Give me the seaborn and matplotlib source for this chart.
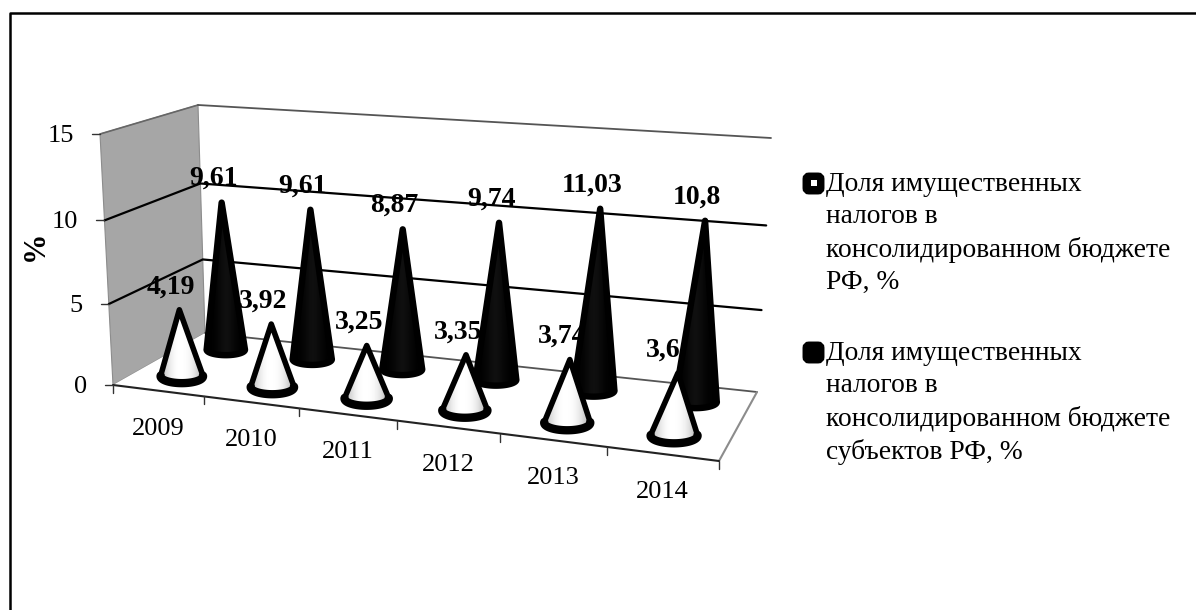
import numpy as np
import pandas as pd
import seaborn as sns
import matplotlib.pyplot as plt
from matplotlib.patches import Polygon, FancyBboxPatch, Rectangle

# --- data ---
YEARS = ['2009', '2010', '2011', '2012', '2013', '2014']
SHARE_RF = [4.19, 3.92, 3.25, 3.35, 3.74, 3.64]
SHARE_REGIONS = [9.61, 9.61, 8.87, 9.74, 11.03, 10.8]
Y_TICKS = [0, 5, 10, 15]
LEGEND_RF = 'Доля имущественных\nналогов в\nконсолидированном бюджете\nРФ, %'
LEGEND_REGIONS = 'Доля имущественных\nналогов в\nконсолидированном бюджете\nсубъектов РФ, %'

# --- scene corners in pixels: (front/back, left/right) at value 0 and at value 15 ---
FLOOR = {'fl': (113, 385), 'bl': (205, 333), 'fr': (719, 461), 'br': (757, 392)}
TOP = {'fl': (100, 134), 'bl': (198, 105), 'fr': (740, 185), 'br': (771, 138)}
DEPTH_WHITE = 0.27
DEPTH_BLACK = 0.77
PERSP_U = 1.132
PERSP_V = 1.05


def warp(t, k):
    # projective spacing, the far end of the chart is squeezed
    return t / (t + k * (1 - t))


def project(u, d, v):
    """u along years 0..1, d depth 0..1, v value 0..15 -> pixel x, y"""
    u = warp(u, PERSP_U)

    def plane(c):
        front = (1 - u) * np.array(c['fl']) + u * np.array(c['fr'])
        back = (1 - u) * np.array(c['bl']) + u * np.array(c['br'])
        return (1 - d) * front + d * back
    t = warp(v / Y_TICKS[-1], PERSP_V)
    return (1 - t) * plane(FLOOR) + t * plane(TOP)


def grid_frame():
    rows = []
    for level in Y_TICKS[1:3]:
        for u, d in [(0, 0), (0, 1), (1, 1)]:
            x, y = project(u, d, level)
            rows.append({'px': x, 'py': y, 'level': level})
    return pd.DataFrame(rows)


def draw_cone(ax, u, d, value, dark):
    bx, by = project(u, d, 0)
    tx, ty = project(u, d, value)
    scale = 1 + 0.13 * u
    if dark:
        # thick round stroke makes the blunt tip, so the shape is inset by it
        a, b = 19 * scale, 5.5 * scale
        ty += 1
        ramp = [0.0, 0.01, 0.04, 0.07, 0.04, 0.01, 0.0]
        lw = 4.6
    else:
        a, b = 21 * scale, 6.8 * scale
        ramp = [0.78, 0.93, 1.0, 1.0, 0.98, 0.90, 0.72]
        lw = 4.0
    t = np.linspace(-0.1, np.pi + 0.1, 50)
    arc = np.column_stack([bx + a * np.cos(t), by + b * np.sin(t)])
    poly = np.vstack([[tx, ty], arc])

    ax.add_patch(Polygon(poly, closed=True, fc='black' if dark else 'white', ec='none', zorder=3))
    im = ax.imshow(np.array(ramp)[None, :], cmap='gray', vmin=0, vmax=1, aspect='auto',
                   extent=(bx - a, bx + a, by + b + 1, ty - 1), interpolation='bicubic', zorder=3)
    im.set_clip_path(Polygon(poly, closed=True, transform=ax.transData))
    if not dark:
        ax.plot(arc[:, 0], arc[:, 1], color='black', lw=6, solid_capstyle='round', zorder=3)
    ax.add_patch(Polygon(poly, closed=True, fc='none', ec='black', lw=lw, joinstyle='round', zorder=3))


sns.set_theme(style='white')
plt.rcParams['font.family'] = ['Liberation Serif', 'DejaVu Serif']

fig = plt.figure(figsize=(11.96, 6.10), dpi=100)
ax = fig.add_axes([0, 0, 1, 1])

# --- walls and floor ---
ax.add_patch(Polygon([project(0, 0, 0), project(0, 1, 0), project(0, 1, 15), project(0, 0, 15)],
                     closed=True, fc='#a6a6a6', ec='#8c8c8c', lw=0.8, zorder=1))
ax.add_patch(Polygon([project(0, 0, 0), project(0, 1, 0), project(1, 1, 0), project(1, 0, 0)],
                     closed=True, fc='white', ec='none', zorder=1))
for p, q, col, w in [((0, 1, 0), (1, 1, 0), '#555555', 1.3),
                     ((1, 1, 0), (1, 0, 0), '#8c8c8c', 1.5),
                     ((0, 0, 0), (1, 0, 0), '#222222', 1.5),
                     ((0, 0, 15), (0, 1, 15), '#666666', 1.2),
                     ((0, 1, 15), (1, 1, 15), '#555555', 1.3)]:
    a, b = project(*p), project(*q)
    ax.plot([a[0], b[0]], [a[1], b[1]], color=col, lw=w, zorder=1.5)

sns.lineplot(data=grid_frame(), x='px', y='py', units='level', estimator=None, sort=False,
             color='black', lw=1.6, legend=False, ax=ax, zorder=2)

# --- axis ticks and labels ---
for tick in Y_TICKS:
    x, y = project(0, 0, tick)
    ax.plot([x - 8, x], [y, y], color='#333333', lw=1, zorder=2)
    ax.text(x - 26, y + 2, str(tick), ha='right', va='center', fontsize=19, color='black')
for i in range(len(YEARS) + 1):
    x, y = project(i / len(YEARS), 0, 0)
    ax.plot([x, x], [y, y + 8], color='#333333', lw=1, zorder=2)
for i, year in enumerate(YEARS):
    x, y = project((i + 0.5) / len(YEARS), 0, 0)
    ax.text(x, y + 38, year, ha='center', va='center', fontsize=19, color='black')
ax.text(35, 246, '%', rotation=90, ha='center', va='center', fontsize=22, fontweight='bold', color='black')


def value_label(u, d, value, z):
    x, y = project(u, d, value)
    ax.text(x - 8, y - 23, f'{value:g}'.replace('.', ','), ha='center', va='center',
            fontsize=20, fontweight='bold', color='black', zorder=z)


# --- cones: white series labels sit behind the black cones ---
n = len(YEARS)
for i in range(n):
    value_label((i + 0.5) / n, DEPTH_WHITE, SHARE_RF[i], 2.5)
for i in range(n):
    draw_cone(ax, (i + 0.5) / n, DEPTH_BLACK, SHARE_REGIONS[i], True)
for i in range(n):
    draw_cone(ax, (i + 0.5) / n, DEPTH_WHITE, SHARE_RF[i], False)
for i in range(n):
    value_label((i + 0.5) / n, DEPTH_BLACK, SHARE_REGIONS[i], 4)

# --- legend ---
for top, text, inner in [(173, LEGEND_RF, True), (342, LEGEND_REGIONS, False)]:
    ax.add_patch(FancyBboxPatch((806, top + 3), 15, 15, boxstyle='round,pad=0,rounding_size=3',
                                mutation_aspect=1, fc='black', ec='black', lw=5))
    if inner:
        ax.add_patch(Rectangle((811, top + 7), 6, 6, fc='white', ec='none', zorder=3))
    ax.text(826, top - 1, text, ha='left', va='top', fontsize=19.8, linespacing=1.38, color='black')

# --- outer frame: only left and top edges are inside the picture ---
ax.plot([10, 10, 1196], [610, 13, 13], color='black', lw=1.8, zorder=5)

ax.set_xlim(0, 1196)
ax.set_ylim(610, 0)
ax.set_xlabel('')
ax.set_ylabel('')
ax.axis('off')
fig.savefig('out.png', dpi=100, facecolor='white')
